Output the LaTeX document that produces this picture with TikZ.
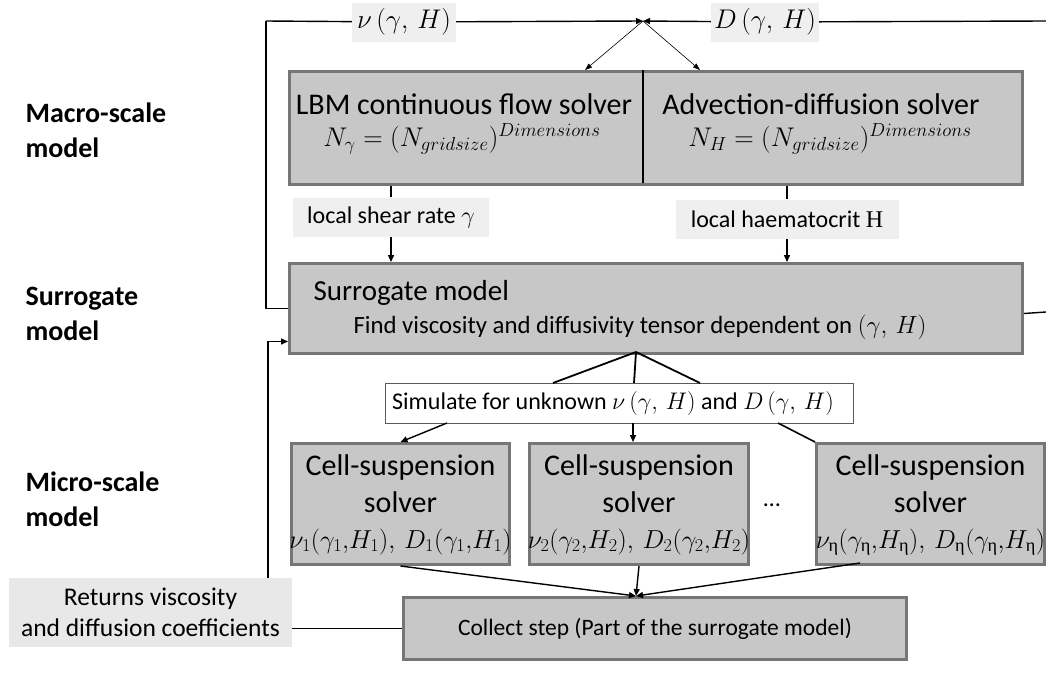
\documentclass[tikz,border=0pt]{standalone}
\usepackage{fix-cm}
\usepackage{amsmath}
\usepackage{fontspec}
\setmainfont{Carlito}
\newfontfamily\lserif{Liberation Serif}
\usetikzlibrary{arrows.meta}
\definecolor{boxgray}{RGB}{199,199,199}
\definecolor{bordergray}{RGB}{118,118,118}
\definecolor{lblgray}{RGB}{239,239,239}
\definecolor{retgray}{RGB}{232,232,232}
\definecolor{simborder}{RGB}{90,90,90}
\newcommand\fsz[2]{\fontsize{#1}{#2}\selectfont}
\newcommand\ueta{\text{\lserif η}}
\tikzset{
  gbox/.style={draw=bordergray, line width=3pt, fill=boxgray, inner sep=0pt},
  lbl/.style={fill=lblgray, inner sep=0pt},
  conn/.style={line width=1.4pt, draw=black},
  arr/.style={conn, -{Triangle[length=7pt,width=6pt]}},
  thinarr/.style={line width=0.6pt, -{Triangle[length=7pt,width=5pt]}},
  side/.style={anchor=base west, font=\fsz{28}{34}\bfseries},
  title/.style={anchor=base, font=\fsz{30}{36}},
  formula/.style={anchor=base, font=\fsz{27}{32}},
  small/.style={font=\fsz{24}{29}},
}
\begin{document}
\begin{tikzpicture}[x=1pt,y=-1pt]
\useasboundingbox (0,0) rectangle (1046,675);
% side labels
\node[side] (lm1) at (22,122) {Macro-scale};
\node[side] (lm2) at (22,157) {model};
\node[side] (ls1) at (22,305) {Surrogate};
\node[side] (ls2) at (22,340) {model};
\node[side] (lu1) at (22,491) {Micro-scale};
\node[side] (lu2) at (22,526) {model};
% macro box
\node[gbox, minimum width=733pt, minimum height=113pt, anchor=north west] (macro) at (288,70) {};
\coordinate (dtop) at (643,70);
\coordinate (dbot) at (643,183);
\draw[line width=2pt] (dtop) -- (dbot);
\node[title] (lbmT) at (464,114) {LBM continuous flow solver};
\node[formula] (lbmF) at (462,146) {$N_\gamma = (N_{gridsize})^{Dimensions}$};
\node[title] (advT) at (821,114) {Advection-diffusion solver};
\node[formula] (advF) at (830,146) {$N_H = (N_{gridsize})^{Dimensions}$};
% top labels
\node[lbl, minimum width=104pt, minimum height=39pt, font=\fsz{27}{32}] (nu) at (404,22) {$\nu\,(\gamma,\,H)$};
\node[lbl, minimum width=108pt, minimum height=39pt, font=\fsz{27}{32}] (Dl) at (765,22) {$D\,(\gamma,\,H)$};
\coordinate (J) at (643,21);
\coordinate (TL) at (266,21);
\coordinate (TR) at (1046,21);
\coordinate (a1) at (585,70);
\coordinate (a2) at (700,70);
\draw[arr] (nu) -- (J);
\draw[arr] (Dl) -- (J);
\draw[thinarr] (J) -- (a1);
\draw[thinarr] (J) -- (a2);
\draw[conn] (nu) -- (TL);
\draw[conn] (Dl) -- (TR);
% surrogate box
\node[gbox, minimum width=733pt, minimum height=90pt, anchor=north west] (surr) at (288,262) {};
\node[anchor=base west, font=\fsz{29}{34}] (surT) at (310,300) {Surrogate model};
\node[anchor=base west, font=\fsz{24.8}{30}] (surF) at (350,333) {Find viscosity and diffusivity tensor dependent on $(\gamma,\,H)$};
\draw[conn] (TL) |- (surr.west);
\coordinate (SR) at (1046,312);
\draw[conn] ([yshift=-5pt]surr.east) -- (SR);
% local labels
\node[lbl, minimum width=196pt, minimum height=39pt, small] (shear) at (391,217) {local shear rate $\gamma$};
\node[lbl, minimum width=223pt, minimum height=39pt, small] (haem) at (787,219) {local haematocrit {\lserif H}};
\draw[conn] (shear.north |- macro.south) -- (shear.north);
\draw[arr] (shear.south) -- (shear.south |- surr.north);
\draw[conn] (haem.north |- macro.south) -- (haem.north);
\draw[arr] (haem.south) -- (haem.south |- surr.north);
% simulate box
\node[draw=simborder, line width=1pt, fill=white, minimum width=468pt, minimum height=40pt, inner sep=0pt] (sim) at (619,403) {};
\node[font=\fsz{24}{29}] (simT) at (613,403) {Simulate for unknown $\nu\,(\gamma,\,H)$ and $D\,(\gamma,\,H)$};
\coordinate (apex) at (636,352);
\coordinate (st1) at (553,383);
\coordinate (st2) at (634,383);
\coordinate (st3) at (700,383);
\draw[line width=1.8pt] (apex) -- (st1);
\draw[line width=1.8pt] (apex) -- (st2);
\draw[line width=1.8pt] (apex) -- (st3);
% cell boxes
\node[gbox, minimum width=218pt, minimum height=121pt, anchor=north west] (c1) at (290,442) {};
\node[gbox, minimum width=219pt, minimum height=121pt, anchor=north west] (c2) at (528,442) {};
\node[gbox, minimum width=228pt, minimum height=121pt, anchor=north west] (c3) at (815,442) {};
\foreach \b/\f in {c1/{$\nu_1(\gamma_1{,}H_1),\,D_1(\gamma_1{,}H_1)$}, c2/{$\nu_2(\gamma_2{,}H_2),\,D_2(\gamma_2{,}H_2)$}, c3/{$\nu_{\ueta}(\gamma_{\ueta}{,}H_{\ueta}),\,D_{\ueta}(\gamma_{\ueta}{,}H_{\ueta})$}}{
  \node[title] (\b t1) at ([yshift=-33pt]\b.north) {Cell-suspension};
  \node[title] (\b t2) at ([yshift=-70pt]\b.north) {solver};
  \node[formula, font=\fsz{26}{31}] (\b t3) at ([yshift=-106pt]\b.north) {\f};
}
\node[font=\fsz{24}{29}] (dots) at (772,505) {\dots};
\coordinate (s1) at (447,423);
\coordinate (s2) at (633,423);
\coordinate (s3) at (778,423);
\coordinate (c3tl) at (815,442);
\draw[arr] (s1) -- (c1.north);
\draw[arr] (s2) -- (s2 |- c2.north);
\draw[line width=1.6pt] (s3) -- (c3tl);
% collect
\node[gbox, minimum width=503pt, minimum height=62pt, anchor=north west] (col) at (402,596) {};
\node[font=\fsz{23.5}{28}] (colT) at (col.center) {Collect step (Part of the surrogate model)};
\coordinate (ctop) at (636,596);
\coordinate (c3b) at (860,563);
\draw[arr] (c1.south) -- (ctop);
\draw[arr] (c2.south) -- (ctop);
\draw[arr] (c3b) -- (ctop);
% returns
\node[fill=retgray, minimum width=283pt, minimum height=69pt, inner sep=0pt, align=center, font=\fsz{25.5}{31}] (ret) at (150.5,612.5) {Returns viscosity\\and diffusion coefficients};
\draw[conn] (ret.east |- col.west) -- (col.west);
\coordinate (rA) at (268,578);
\draw[arr] (rA) |- ([yshift=-33pt]surr.west);
\end{tikzpicture}
\end{document}
